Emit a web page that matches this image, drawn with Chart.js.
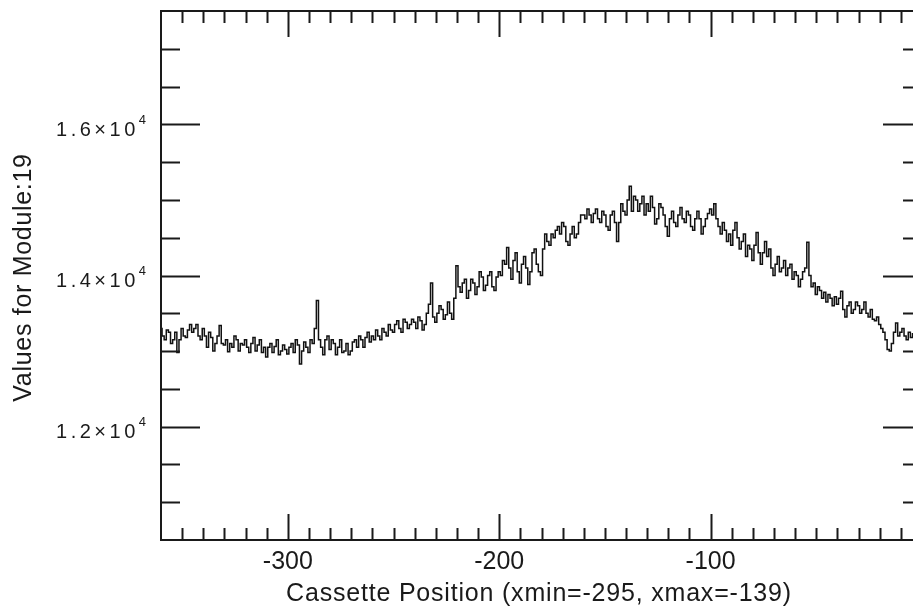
<!DOCTYPE html>
<html>
<head>
<meta charset="utf-8">
<script src="https://cdn.jsdelivr.net/npm/chart.js@4/dist/chart.umd.min.js"></script>
<style>
  html, body { margin: 0; padding: 0; background: #fff; overflow: hidden; }
  #wrap { width: 935px; height: 611px; }
</style>
</head>
<body>
<div id="wrap"><canvas id="c" width="935" height="611"></canvas></div>
<script>
// cassette scan, module 19 (one reading per unit of position)
const positions = [
  -360,-359,-358,-357,-356,-355,-354,-353,-352,-351,-350,-349,-348,-347,-346,-345,-344,-343,-342,-341,
  -340,-339,-338,-337,-336,-335,-334,-333,-332,-331,-330,-329,-328,-327,-326,-325,-324,-323,-322,-321,
  -320,-319,-318,-317,-316,-315,-314,-313,-312,-311,-310,-309,-308,-307,-306,-305,-304,-303,-302,-301,
  -300,-299,-298,-297,-296,-295,-294,-293,-292,-291,-290,-289,-288,-287,-286,-285,-284,-283,-282,-281,
  -280,-279,-278,-277,-276,-275,-274,-273,-272,-271,-270,-269,-268,-267,-266,-265,-264,-263,-262,-261,
  -260,-259,-258,-257,-256,-255,-254,-253,-252,-251,-250,-249,-248,-247,-246,-245,-244,-243,-242,-241,
  -240,-239,-238,-237,-236,-235,-234,-233,-232,-231,-230,-229,-228,-227,-226,-225,-224,-223,-222,-221,
  -220,-219,-218,-217,-216,-215,-214,-213,-212,-211,-210,-209,-208,-207,-206,-205,-204,-203,-202,-201,
  -200,-199,-198,-197,-196,-195,-194,-193,-192,-191,-190,-189,-188,-187,-186,-185,-184,-183,-182,-181,
  -180,-179,-178,-177,-176,-175,-174,-173,-172,-171,-170,-169,-168,-167,-166,-165,-164,-163,-162,-161,
  -160,-159,-158,-157,-156,-155,-154,-153,-152,-151,-150,-149,-148,-147,-146,-145,-144,-143,-142,-141,
  -140,-139,-138,-137,-136,-135,-134,-133,-132,-131,-130,-129,-128,-127,-126,-125,-124,-123,-122,-121,
  -120,-119,-118,-117,-116,-115,-114,-113,-112,-111,-110,-109,-108,-107,-106,-105,-104,-103,-102,-101,
  -100,-99,-98,-97,-96,-95,-94,-93,-92,-91,-90,-89,-88,-87,-86,-85,-84,-83,-82,-81,
  -80,-79,-78,-77,-76,-75,-74,-73,-72,-71,-70,-69,-68,-67,-66,-65,-64,-63,-62,-61,
  -60,-59,-58,-57,-56,-55,-54,-53,-52,-51,-50,-49,-48,-47,-46,-45,-44,-43,-42,-41,
  -40,-39,-38,-37,-36,-35,-34,-33,-32,-31,-30,-29,-28,-27,-26,-25,-24,-23,-22,-21,
  -20,-19,-18,-17,-16,-15,-14,-13,-12,-11,-10,-9,-8,-7,-6,-5,-4,-3,-2,-1
];
const moduleValues = [
  13300,13200,13150,13280,13250,13100,13150,13250,12980,13150,13300,13200,13180,13280,13350,13250,13300,13350,13200,13150,
  13300,13200,13050,13250,13180,13000,13100,13200,13340,13100,13080,13150,12990,13100,13050,13200,13150,13000,13100,13080,
  13150,13050,12980,13100,13180,13000,13080,13150,12980,13050,12920,13050,13100,12980,13060,13150,12950,13000,13080,13020,
  12960,13050,13100,12980,13150,13080,12830,13000,13120,13050,12980,13150,13100,13300,13670,13150,13050,12950,13150,13200,
  13020,13150,13100,12950,13050,13150,12980,13000,13100,12950,13000,13120,13150,13050,13200,13150,13050,13180,13250,13120,
  13200,13150,13280,13200,13150,13300,13250,13200,13350,13280,13250,13350,13400,13300,13250,13420,13380,13300,13350,13420,
  13380,13300,13450,13400,13280,13350,13500,13620,13900,13450,13380,13500,13600,13550,13420,13480,13650,13500,13420,13700,
  14130,13850,13780,13900,13950,13700,13800,13950,13900,13750,13850,14050,13980,13800,13870,14000,14050,13850,13800,13980,
  14050,14000,14200,14150,14370,14100,13950,14200,14300,14050,13900,14150,14250,14100,13880,14050,14300,14350,14150,14050,
  14000,14350,14550,14450,14400,14550,14500,14600,14650,14550,14700,14650,14450,14400,14550,14650,14500,14550,14700,14800,
  14800,14750,14880,14800,14700,14820,14880,14750,14700,14850,14800,14650,14600,14800,14850,14700,14450,14700,14950,14850,
  14800,15000,15180,14850,15050,15000,14850,14950,15050,14800,14950,14850,15050,14900,14680,14750,14950,14900,14800,14650,
  14520,14750,14850,14700,14650,14800,14900,14750,14700,14850,14800,14650,14600,14750,14850,14750,14550,14650,14750,14820,
  14880,14800,14950,14750,14650,14550,14700,14600,14450,14550,14400,14600,14700,14500,14350,14450,14550,14250,14400,14350,
  14200,14400,14570,14300,14150,14300,14450,14250,14350,14100,14000,14150,14250,14050,14100,14200,14000,14100,14150,13950,
  14050,14000,13850,13950,14050,14100,14440,14000,13850,13900,13750,13850,13800,13700,13780,13650,13750,13700,13600,13720,
  13620,13700,13790,13550,13450,13600,13650,13500,13550,13650,13600,13500,13550,13650,13500,13450,13550,13420,13400,13450,
  13350,13300,13250,13150,13020,13000,13100,13250,13370,13200,13250,13300,13200,13150,13250,13180,13230,13150,13120,13200
];

const xMajorTicks = [-300, -200, -100];
const xTickLabels = ['-300', '-200', '-100'];
const xMinorTicks = [-350,-340,-330,-320,-310,-290,-280,-270,-260,-250,-240,-230,-220,-210,
  -190,-180,-170,-160,-150,-140,-130,-120,-110,-90,-80,-70,-60,-50,-40,-30,-20,-10];
const yMajorTicks = [12000, 14000, 16000];
const yTickLabels = ['1.2', '1.4', '1.6'];   // mantissa, drawn as m×10^4
const yMinorTicks = [11000, 11500, 12500, 13000, 13500, 14500, 15000, 15500, 16500, 17000];

const xTitle = 'Cassette Position (xmin=-295, xmax=-139)';
const yTitle = 'Values for Module:19';

const INK = '#1a1a1a';
const FONT = '"Liberation Sans", Arial, Helvetica, sans-serif';

// IDL-style frame: inward ticks on all four sides + labels
const idlAxes = {
  id: 'idlAxes',
  afterDraw(chart) {
    const { ctx, chartArea: a, scales: { x, y } } = chart;
    ctx.save();
    ctx.strokeStyle = INK;
    ctx.lineWidth = 2;
    ctx.strokeRect(a.left, a.top, a.right - a.left, a.bottom - a.top);

    ctx.beginPath();
    const xt = (v, len) => {
      const px = Math.round(x.getPixelForValue(v)) + 0.5;
      ctx.moveTo(px, a.bottom); ctx.lineTo(px, a.bottom - len);
      ctx.moveTo(px, a.top); ctx.lineTo(px, a.top + len);
    };
    const yt = (v, len) => {
      const py = Math.round(y.getPixelForValue(v)) + 0.5;
      ctx.moveTo(a.left, py); ctx.lineTo(a.left + len, py);
      ctx.moveTo(a.right, py); ctx.lineTo(a.right - len, py);
    };
    xMinorTicks.forEach(v => xt(v, 12));
    xMajorTicks.forEach(v => xt(v, 26));
    yMinorTicks.forEach(v => yt(v, 19));
    yMajorTicks.forEach(v => yt(v, 39));
    ctx.stroke();

    ctx.fillStyle = INK;
    ctx.font = '25px ' + FONT;
    ctx.textAlign = 'center';
    ctx.textBaseline = 'middle';
    xMajorTicks.forEach((v, i) => ctx.fillText(xTickLabels[i], x.getPixelForValue(v), 562));

    ctx.letterSpacing = '0.8px';
    ctx.fillText(xTitle, 539, 594);

    ctx.save();
    ctx.translate(24, (a.top + a.bottom) / 2 + 2);
    ctx.rotate(-Math.PI / 2);
    ctx.letterSpacing = '0.7px';
    ctx.fillText(yTitle, 0, 0);
    ctx.restore();

    // y labels like 1.6×10^4
    ctx.textAlign = 'left';
    yMajorTicks.forEach((v, i) => {
      const py = y.getPixelForValue(v) + 6;
      ctx.font = '20px ' + FONT;
      ctx.letterSpacing = '3.5px';
      const base = yTickLabels[i] + '×10';
      const w = ctx.measureText(base).width;
      ctx.font = '13px ' + FONT;
      ctx.letterSpacing = '0px';
      const ws = ctx.measureText('4').width;
      const x0 = 146 - w - ws;
      ctx.font = '20px ' + FONT;
      ctx.letterSpacing = '3.5px';
      ctx.fillText(base, x0, py);
      ctx.font = '13px ' + FONT;
      ctx.letterSpacing = '0px';
      ctx.fillText('4', x0 + w, py - 10);
    });
    ctx.restore();
  }
};

new Chart(document.getElementById('c'), {
  type: 'line',
  data: {
    datasets: [{
      data: positions.map((p, i) => ({ x: p, y: moduleValues[i] })),
      borderColor: '#111',
      borderWidth: 1.5,
      pointRadius: 0,
      stepped: 'middle',
      fill: false
    }]
  },
  options: {
    responsive: false,
    animation: false,
    events: [],
    layout: { padding: { left: 161, top: 11, right: 13, bottom: 71 } },
    plugins: { legend: { display: false }, tooltip: { enabled: false } },
    scales: {
      x: { type: 'linear', min: -360, max: 0, display: false },
      y: { type: 'linear', min: 10500, max: 17500, display: false }
    }
  },
  plugins: [idlAxes]
});
</script>
</body>
</html>
